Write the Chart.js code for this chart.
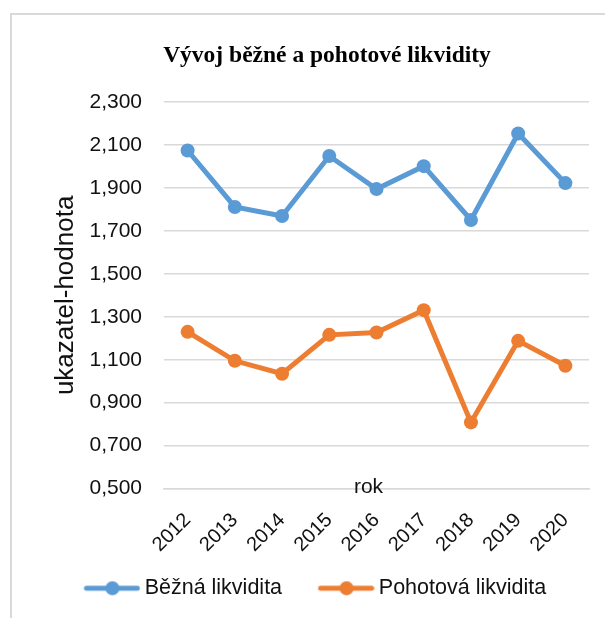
<!DOCTYPE html>
<html>
<head>
<meta charset="utf-8">
<script src="https://cdn.jsdelivr.net/npm/chart.js@4.4.0/dist/chart.umd.min.js"></script>
<style>
html, body { margin: 0; padding: 0; background: #fff; overflow: hidden; width: 605px; height: 618px; }
#frame { position: absolute; left: 10px; top: 13px; width: 700px; height: 700px; border-top: 2px solid #d9d9d9; border-left: 2px solid #d9d9d9; }
#chart { position: absolute; left: 11px; top: 14px; }
</style>
</head>
<body>
<div id="frame"></div>
<canvas id="chart" width="632" height="595"></canvas>
<script>
// data
var years = ['2012', '2013', '2014', '2015', '2016', '2017', '2018', '2019', '2020'];
var bezna = [2.075, 1.812, 1.770, 2.049, 1.895, 2.002, 1.751, 2.154, 1.923];
var pohotova = [1.230, 1.095, 1.035, 1.216, 1.227, 1.331, 0.808, 1.188, 1.072];

var blue = '#5B9BD5';
var orange = '#ED7D31';
var sans = "'Liberation Sans', Arial, sans-serif";

// legend marker: line with a dot, transparent on the left so the item gap matches
function legendMarker(color){
    var c = document.createElement('canvas');
    c.width = 89; c.height = 16;
    var g = c.getContext('2d');
    g.strokeStyle = color;
    g.lineWidth = 5;
    g.lineCap = 'round';
    g.beginPath();
    g.moveTo(c.width - 54, 8);
    g.lineTo(c.width - 3, 8);
    g.stroke();
    g.fillStyle = color;
    g.beginPath();
    g.arc(c.width - 28, 8, 7, 0, Math.PI * 2);
    g.fill();
    return c;
}

// x axis title sits above the tick labels, on the bottom gridline
var rokTitle = {
    id: 'rokTitle',
    afterLayout: function(chart){
        chart.legend.left -= 25;
        chart.legend.right -= 25;
    },
    afterDraw: function(chart){
        var ctx = chart.ctx;
        var a = chart.chartArea;
        ctx.save();
        ctx.font = '21px ' + sans;
        ctx.fillStyle = '#111';
        ctx.textAlign = 'center';
        ctx.textBaseline = 'middle';
        ctx.fillText('rok', (a.left + a.right) / 2 - 8, a.bottom - 1);
        ctx.restore();
    }
};

var ctx = document.getElementById('chart').getContext('2d');
var chart = new Chart(ctx, {
    type: 'line',
    data: {
        labels: years,
        datasets: [{
            label: 'Běžná likvidita',
            data: bezna,
            borderColor: blue,
            backgroundColor: blue,
            borderWidth: 5,
            pointRadius: 7,
            pointHoverRadius: 7,
            pointBorderWidth: 0,
            tension: 0,
            fill: false
        }, {
            label: 'Pohotová likvidita',
            data: pohotova,
            borderColor: orange,
            backgroundColor: orange,
            borderWidth: 5,
            pointRadius: 7,
            pointHoverRadius: 7,
            pointBorderWidth: 0,
            tension: 0,
            fill: false
        }]
    },
    options: {
        responsive: false,
        animation: false,
        layout: { padding: 0 },
        plugins: {
            title: {
                display: true,
                text: 'Vývoj běžné a pohotové likvidity',
                color: '#000',
                font: { family: "'Liberation Serif', 'Times New Roman', serif", size: 23.5, weight: 'bold' },
                padding: { top: 28, bottom: 32 }
            },
            legend: {
                position: 'bottom',
                labels: {
                    usePointStyle: true,
                    pointStyleWidth: 76,
                    padding: 10,
                    color: '#111',
                    font: { family: sans, size: 21.5 },
                    generateLabels: function(chart){
                        var items = Chart.defaults.plugins.legend.labels.generateLabels(chart);
                        items.forEach(function(it){
                            var ds = chart.data.datasets[it.datasetIndex];
                            it.pointStyle = legendMarker(ds.borderColor);
                        });
                        return items;
                    }
                }
            },
            tooltip: { enabled: false }
        },
        scales: {
            x: {
                offset: true,
                grid: { display: false, drawTicks: false },
                border: { display: true, color: '#d9d9d9', width: 1.5 },
                ticks: {
                    color: '#111',
                    font: { family: sans, size: 20 },
                    minRotation: 45,
                    maxRotation: 45,
                    padding: 20
                },
                afterFit: function(scale){ scale.height = 79; }
            },
            y: {
                min: 0.5,
                max: 2.3,
                grid: { color: '#d9d9d9', lineWidth: 1.5, drawTicks: false },
                border: { display: false },
                ticks: {
                    stepSize: 0.2,
                    color: '#111',
                    font: { family: sans, size: 21 },
                    padding: 22,
                    callback: function(value){
                        return value.toFixed(3).replace('.', ',');
                    }
                },
                title: {
                    display: true,
                    text: 'ukazatel-hodnota',
                    color: '#111',
                    font: { family: sans, size: 26 },
                    padding: { top: 39, bottom: 8 }
                },
                afterFit: function(scale){ scale.width = 153; }
            },
            // empty axis on the right only reserves the space right of the plot
            yRight: {
                position: 'right',
                display: true,
                grid: { display: false, drawTicks: false },
                border: { display: false },
                ticks: { display: false },
                afterFit: function(scale){ scale.width = 54; }
            }
        }
    },
    plugins: [rokTitle]
});
</script>
</body>
</html>
